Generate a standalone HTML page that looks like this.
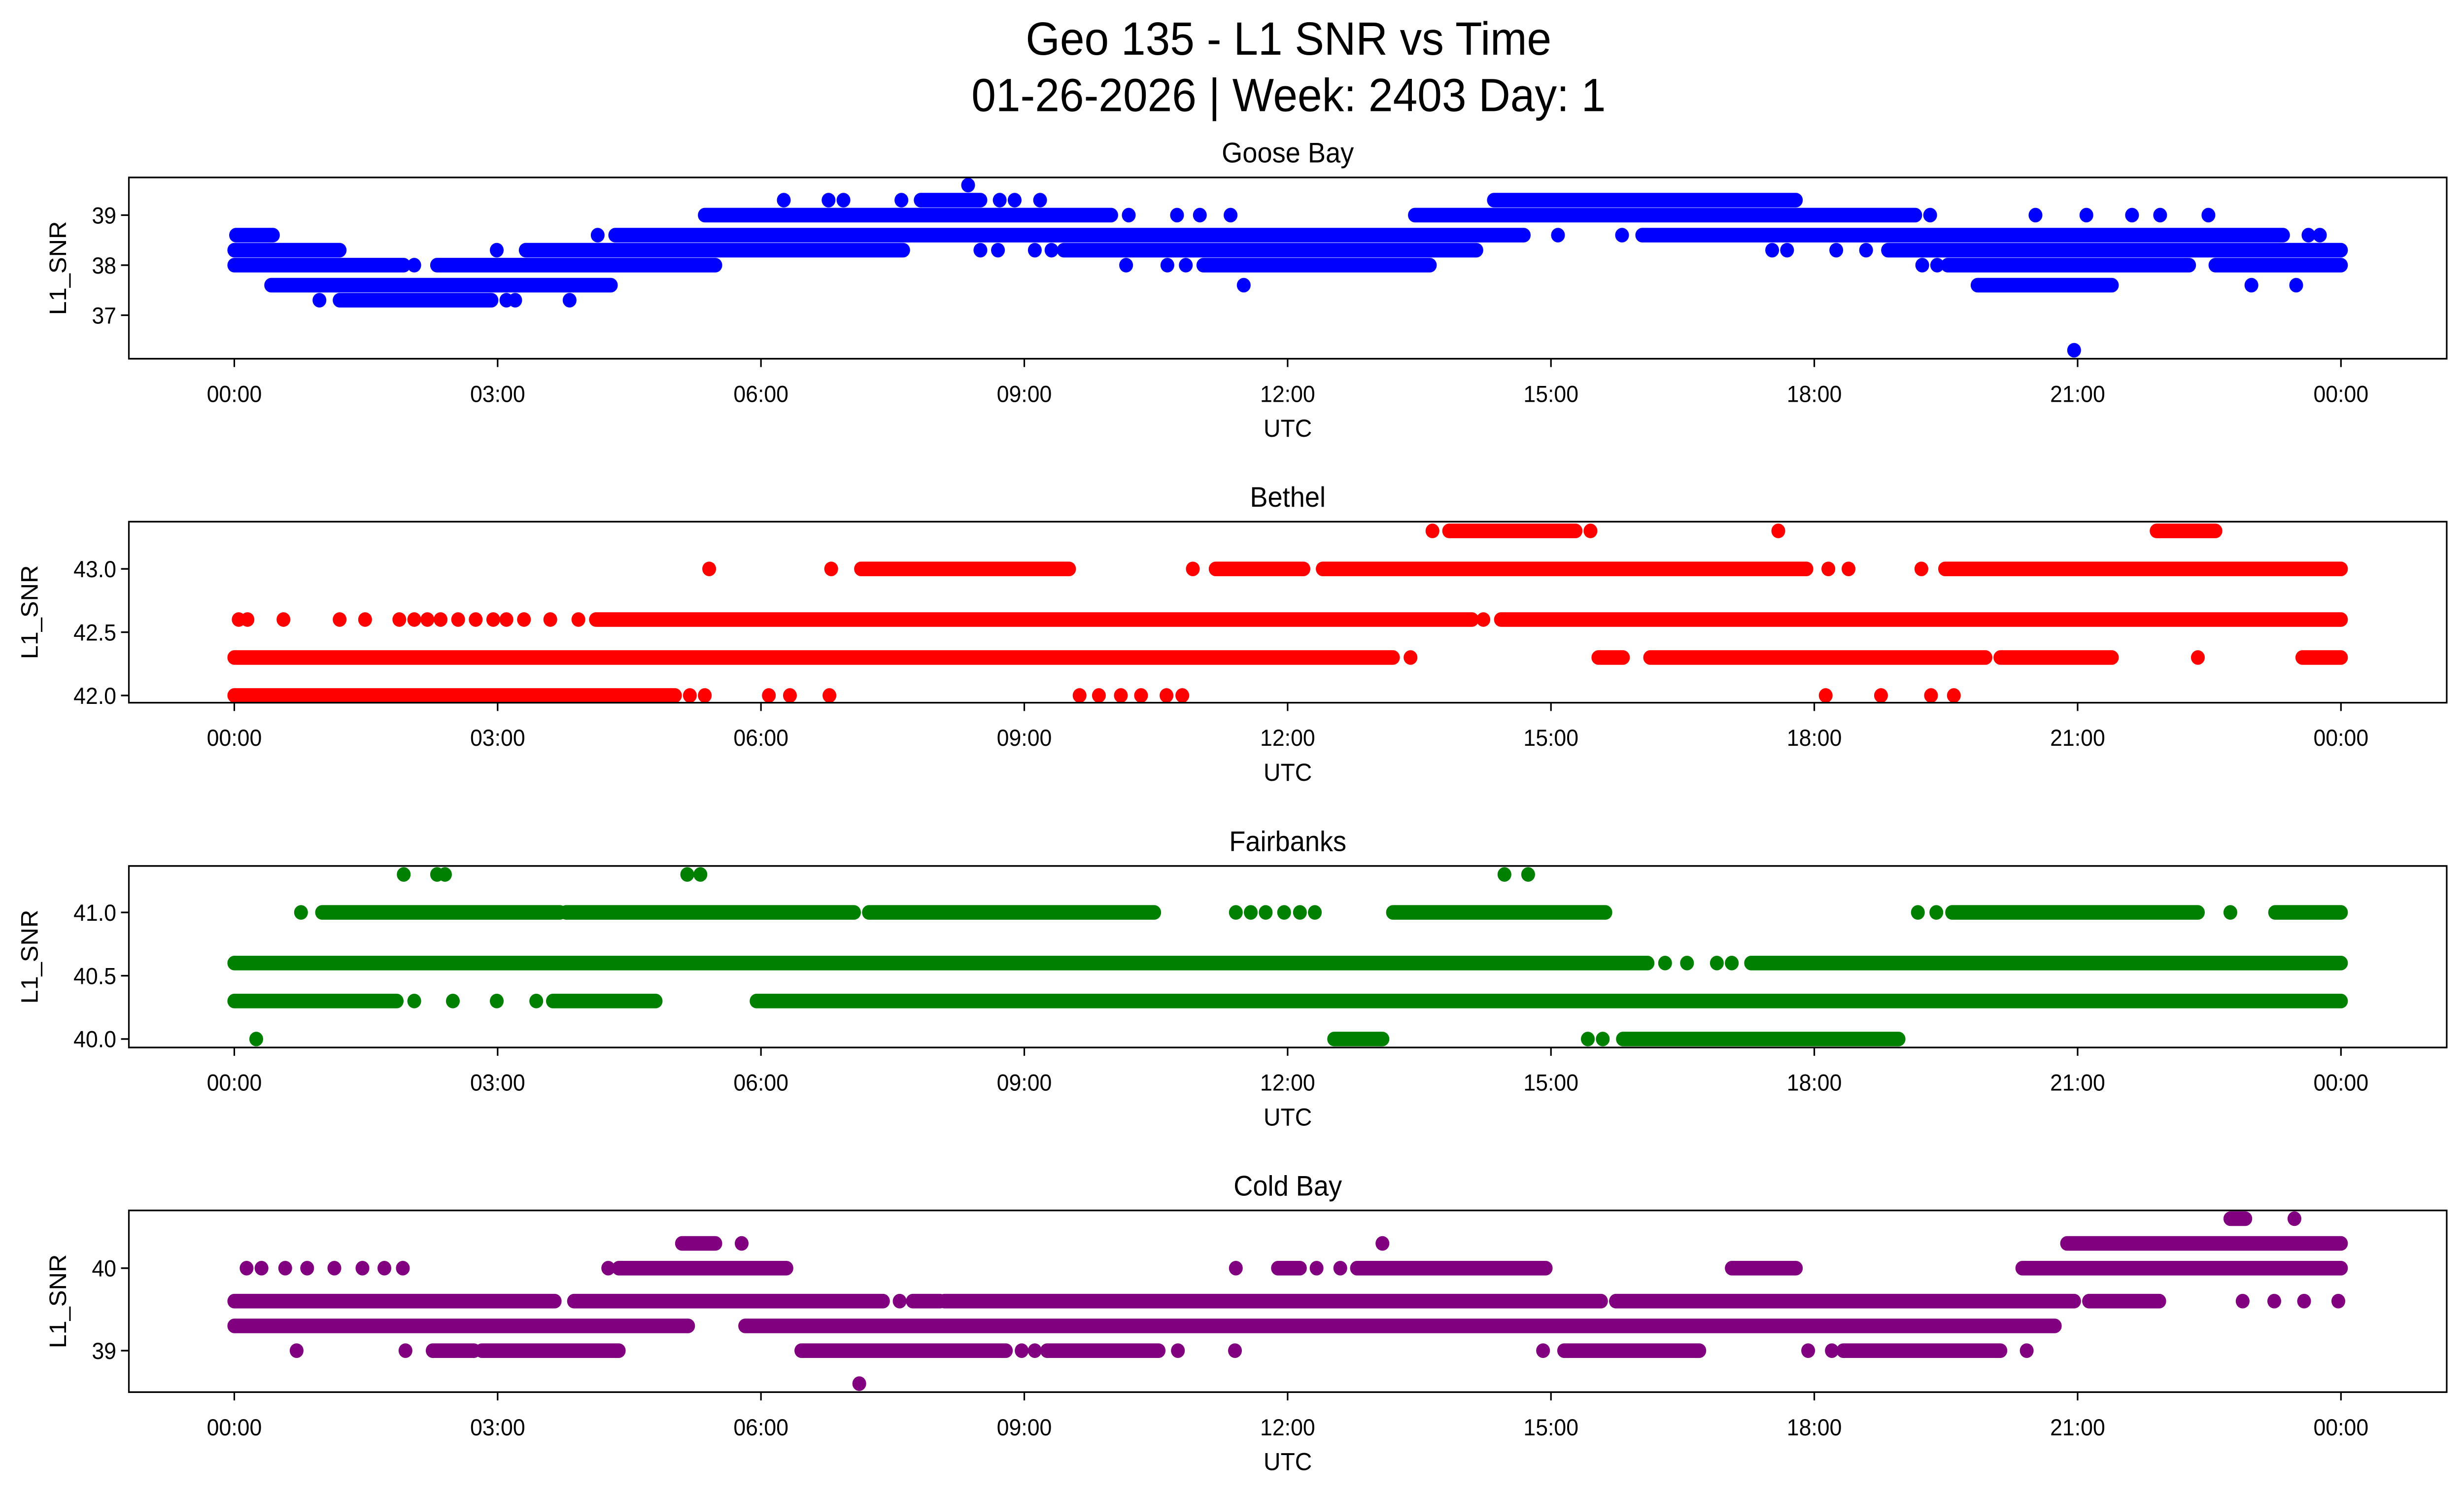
<!DOCTYPE html>
<html><head><meta charset="utf-8"><style>
html,body{margin:0;padding:0;background:#fff;overflow:hidden;width:100%;height:100%;}
svg{display:block;position:absolute;left:0;top:0;width:100vw;height:100vh;font-family:"Liberation Sans","DejaVu Sans",sans-serif;}
</style></head><body>
<svg id="chart" xmlns="http://www.w3.org/2000/svg" viewBox="0 0 1568 901" preserveAspectRatio="none">
<rect width="1568" height="901" fill="#fff"/>
<text x="820" y="33" font-size="28" text-anchor="middle">Geo 135 - L1 SNR vs Time</text>
<text x="820" y="67" font-size="28" text-anchor="middle">01-26-2026 | Week: 2403 Day: 1</text>
<g id="panels"></g>
</svg>
<script>
// ---- data (hours UTC, SNR) ----
const xTickLabels = ["00:00","03:00","06:00","09:00","12:00","15:00","18:00","21:00","00:00"];
const xTickHours = [0,3,6,9,12,15,18,21,24];

const gooseTicks = [37,38,39];
const gooseRuns = [[7.82,8.5,39.3],[14.35,17.79,39.3],[5.36,9.99,39.0],[13.45,19.15,39.0],[0.02,0.44,38.6],[4.34,14.69,38.6],[16.04,23.34,38.6],[0,1.2,38.3],[3.32,7.62,38.3],[9.45,14.15,38.3],[18.84,24,38.3],[0,1.93,38.0],[2.31,5.48,38.0],[11.04,13.62,38.0],[19.52,22.27,38.0],[22.57,24,38.0],[0.42,4.29,37.6],[19.86,21.39,37.6],[1.2,2.93,37.3]];
const goosePts = [[8.36,39.6],[6.26,39.3],[6.77,39.3],[6.94,39.3],[7.6,39.3],[8.72,39.3],[8.89,39.3],[9.18,39.3],[10.19,39.0],[10.74,39.0],[11.0,39.0],[11.35,39.0],[19.32,39.0],[20.52,39.0],[21.1,39.0],[21.62,39.0],[21.94,39.0],[22.49,39.0],[4.14,38.6],[15.08,38.6],[15.81,38.6],[23.63,38.6],[23.76,38.6],[2.99,38.3],[8.5,38.3],[8.7,38.3],[9.12,38.3],[9.31,38.3],[17.52,38.3],[17.69,38.3],[18.25,38.3],[18.59,38.3],[2.05,38.0],[10.16,38.0],[10.63,38.0],[10.84,38.0],[19.23,38.0],[19.4,38.0],[11.5,37.6],[22.98,37.6],[23.49,37.6],[0.97,37.3],[3.1,37.3],[3.2,37.3],[3.82,37.3],[20.96,36.3]];

const bethelTicks = [42.0,42.5,43.0];
const bethelRuns = [[13.84,15.28,43.3],[21.9,22.57,43.3],[7.14,9.51,43.0],[11.18,12.18,43.0],[12.4,17.91,43.0],[19.49,24,43.0],[4.12,14.1,42.6],[14.43,24,42.6],[0,13.2,42.3],[15.54,15.82,42.3],[16.13,19.95,42.3],[20.12,21.39,42.3],[23.56,24,42.3],[0,5.02,42.0]];
const bethelPts = [[13.65,43.3],[15.45,43.3],[17.59,43.3],[5.41,43.0],[6.8,43.0],[10.92,43.0],[18.16,43.0],[18.39,43.0],[19.22,43.0],[0.05,42.6],[0.15,42.6],[0.56,42.6],[1.2,42.6],[1.49,42.6],[1.88,42.6],[2.05,42.6],[2.2,42.6],[2.35,42.6],[2.55,42.6],[2.75,42.6],[2.95,42.6],[3.1,42.6],[3.3,42.6],[3.6,42.6],[3.92,42.6],[14.23,42.6],[13.4,42.3],[22.37,42.3],[5.19,42.0],[5.36,42.0],[6.09,42.0],[6.33,42.0],[6.78,42.0],[9.63,42.0],[9.85,42.0],[10.1,42.0],[10.33,42.0],[10.62,42.0],[10.8,42.0],[18.13,42.0],[18.76,42.0],[19.33,42.0],[19.59,42.0]];

const fairTicks = [40.0,40.5,41.0];
const fairRuns = [[1.0,3.71,41.0],[3.78,7.06,41.0],[7.23,10.48,41.0],[13.2,15.62,41.0],[19.57,22.37,41.0],[23.25,24,41.0],[0,16.1,40.6],[17.28,24,40.6],[0,1.85,40.3],[3.63,4.8,40.3],[5.95,24,40.3],[12.53,13.08,40.0],[15.82,18.96,40.0]];
const fairPts = [[1.93,41.3],[2.31,41.3],[2.4,41.3],[5.16,41.3],[5.31,41.3],[14.47,41.3],[14.74,41.3],[0.76,41.0],[11.41,41.0],[11.58,41.0],[11.75,41.0],[11.96,41.0],[12.14,41.0],[12.31,41.0],[19.18,41.0],[19.39,41.0],[22.74,41.0],[16.3,40.6],[16.55,40.6],[16.89,40.6],[17.06,40.6],[2.05,40.3],[2.49,40.3],[2.99,40.3],[3.44,40.3],[0.25,40.0],[15.42,40.0],[15.59,40.0]];

const coldTicks = [39,40];
const coldRuns = [[22.74,22.91,40.6],[5.1,5.48,40.3],[20.88,24,40.3],[4.38,6.29,40.0],[11.89,12.14,40.0],[12.79,14.94,40.0],[17.06,17.79,40.0],[20.37,24,40.0],[0,3.65,39.6],[3.87,7.39,39.6],[7.73,8.04,39.6],[8.09,15.57,39.6],[15.74,20.96,39.6],[21.13,21.93,39.6],[0,5.17,39.3],[5.82,20.74,39.3],[2.26,2.73,39.0],[2.82,4.38,39.0],[6.46,8.79,39.0],[9.26,10.53,39.0],[15.15,16.69,39.0],[18.33,20.12,39.0]];
const coldPts = [[23.47,40.6],[5.78,40.3],[13.08,40.3],[0.14,40.0],[0.31,40.0],[0.58,40.0],[0.83,40.0],[1.14,40.0],[1.46,40.0],[1.71,40.0],[1.92,40.0],[4.26,40.0],[11.41,40.0],[12.33,40.0],[12.6,40.0],[7.58,39.6],[22.88,39.6],[23.24,39.6],[23.58,39.6],[23.97,39.6],[0.71,39.0],[1.95,39.0],[8.97,39.0],[9.12,39.0],[10.75,39.0],[11.4,39.0],[14.91,39.0],[17.93,39.0],[18.2,39.0],[20.42,39.0],[7.12,38.6]];

const panels = [
 {name:"goose-bay",title:"Goose Bay",color:"#0000ff",top:106.95,bot:216.2,y0:36.13,y1:39.753,ticks:gooseTicks,fmt:v=>v.toFixed(0),runs:gooseRuns,pts:goosePts},
 {name:"bethel",title:"Bethel",color:"#ff0000",top:314.4,bot:423.5,y0:41.943,y1:43.373,ticks:bethelTicks,fmt:v=>v.toFixed(1),runs:bethelRuns,pts:bethelPts},
 {name:"fairbanks",title:"Fairbanks",color:"#008000",top:521.9,bot:631.3,y0:39.933,y1:41.367,ticks:fairTicks,fmt:v=>v.toFixed(1),runs:fairRuns,pts:fairPts},
 {name:"cold-bay",title:"Cold Bay",color:"#800080",top:729.5,bot:839.0,y0:38.497,y1:40.70,ticks:coldTicks,fmt:v=>v.toFixed(0),runs:coldRuns,pts:coldPts}
];

const NS="http://www.w3.org/2000/svg";
const L=82, R=1557, X0=149.1, X24=1489.7, MR=4.4;
const xs = h => X0 + (X24-X0)*h/24;
const root=document.getElementById('panels');
function mk(tag,attrs,parent){const e=document.createElementNS(NS,tag);for(const k in attrs)e.setAttribute(k,attrs[k]);parent.appendChild(e);return e;}

panels.forEach(p=>{
  const ys = v => p.bot - (v-p.y0)/(p.y1-p.y0)*(p.bot-p.top);
  const g=mk('g',{},root);
  
  
  const t=mk('text',{x:(L+R)/2,y:p.top-9,'font-size':17,'text-anchor':'middle'},g);
  t.textContent=p.title;
  
  
  const marks=mk('g',{fill:p.color,stroke:p.color},g);
  
  
  p.runs.forEach(r=>{
    const ln=mk('line',{x1:xs(r[0]),x2:xs(r[1]),y1:ys(r[2]),y2:ys(r[2]),'stroke-width':2*MR,'stroke-linecap':'round'},marks);
    
    
  });
  p.pts.forEach(q=>{
    const c=mk('circle',{cx:xs(q[0]),cy:ys(q[1]),r:MR,stroke:'none'},marks);
    
    
  });
  const fr=mk('rect',{x:L,y:p.top,width:R-L,height:p.bot-p.top,fill:'none',stroke:'#000','stroke-width':1},g);
  
  
  xTickHours.forEach((h,i)=>{
    const x=xs(h);
    const tk=mk('line',{x1:x,x2:x,y1:p.bot,y2:p.bot+5,stroke:'#000','stroke-width':1},g);
    
    
    const tl=mk('text',{x:x,y:p.bot+26,'font-size':14,'text-anchor':'middle'},g);
    tl.textContent=xTickLabels[i];
    
    
  });
  p.ticks.forEach(v=>{
    const y=ys(v);
    const tk=mk('line',{x1:L-5,x2:L,y1:y,y2:y,stroke:'#000','stroke-width':1},g);
    
    
    const tl=mk('text',{x:L-8,y:y+5,'font-size':14,'text-anchor':'end'},g);
    tl.textContent=p.fmt(v);
    
    
  });
  const xl=mk('text',{x:(L+R)/2,y:p.bot+47,'font-size':15,'text-anchor':'middle'},g);
  xl.textContent='UTC';
  
  
  const my=(p.top+p.bot)/2;
  const yl=mk('text',{x:0,y:0,'font-size':15,'text-anchor':'middle',transform:`translate(${p.name==='bethel'||p.name==='fairbanks'?24:42},${my}) rotate(-90)`},g);
  yl.textContent='L1_SNR';
  
  
});
</script>
</body></html>
